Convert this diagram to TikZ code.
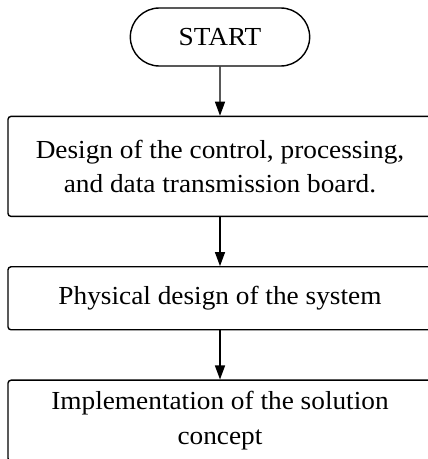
\documentclass[tikz,border=0pt]{standalone}
\usepackage{fontspec}
\setmainfont{Liberation Serif}[FakeStretch=1.05]
\usetikzlibrary{shapes,arrows.meta,positioning}
\tikzset{
    block/.style={rectangle, draw, line width=1.4pt, rounded corners=3pt, minimum width=424pt, align=center, font=\fontsize{26}{34.5}\selectfont},
    terminal/.style={rounded rectangle, draw, line width=1.4pt, minimum width=186pt, minimum height=58pt, font=\fontsize{26}{30}\selectfont},
    line/.style={draw, line width=1.4pt, -{Triangle[length=14pt, width=10pt]}}
}

\begin{document}
\begin{tikzpicture}[x=1pt, y=1pt]
    \useasboundingbox (0,0) rectangle (428,459);
    % Flow steps
    \node [terminal] (start) at (220,422) {START};
    \node [block, minimum height=100pt, below=49pt of start] (board) {Design of the control, processing,\\and data transmission board.};
    \node [block, minimum height=63pt, below=49pt of board] (physical) {Physical design of the system};
    \node [block, minimum height=81pt, below=49pt of physical] (implement) {Implementation of the solution\\concept};

    % Arrows
    \path [line] (start) -- (board);
    \path [line] (board) -- (physical);
    \path [line] (physical) -- (implement);
\end{tikzpicture}
\end{document}
